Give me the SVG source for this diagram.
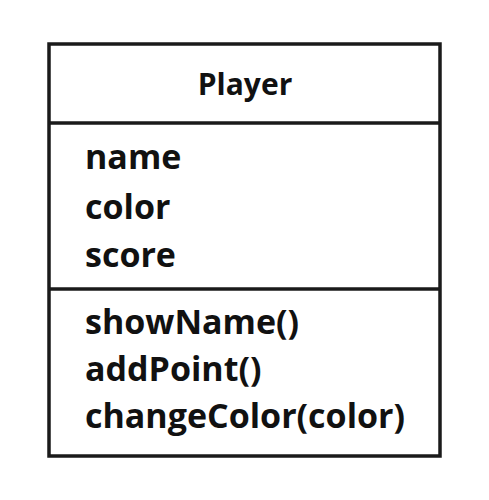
<svg xmlns="http://www.w3.org/2000/svg" width="489" height="500" viewBox="0 0 489 500">
<style>
.t{font-family:"Open Sans","Liberation Sans",sans-serif;font-weight:700;font-size:34px;fill:#111}
.h{font-size:30px}
.ln{stroke:#1a1a1a;stroke-width:3.5;fill:none}
</style>
<rect width="489" height="500" fill="#fff"/>
<g id="player">
<rect class="ln" x="49" y="44" width="391" height="412"/>
<line class="ln" x1="49" y1="123" x2="440" y2="123"/>
<line class="ln" x1="49" y1="289" x2="440" y2="289"/>
<text class="t h" x="245" y="95" text-anchor="middle">Player</text>
<text class="t" x="85" y="169">name</text>
<text class="t" x="85" y="219">color</text>
<text class="t" x="85" y="267">score</text>
<text class="t" x="85" y="334">showName()</text>
<text class="t" x="85" y="381">addPoint()</text>
<text class="t" x="85" y="428">changeColor(color)</text>
</g>
<g id="connectors"></g>
</svg>
